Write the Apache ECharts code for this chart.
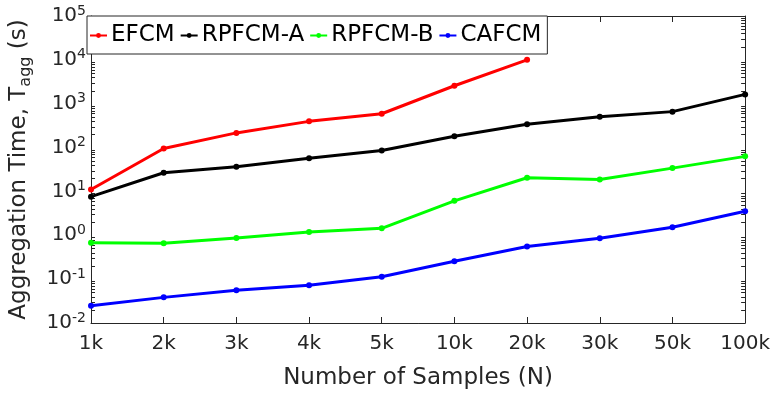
<!DOCTYPE html>
<html><head><meta charset="utf-8">
<script src="https://cdn.jsdelivr.net/npm/echarts@6/dist/echarts.min.js"></script>
<style>html,body{margin:0;padding:0;background:#fff}#c{width:773px;height:395px}</style>
</head><body><div id="c"></div>
<script>
const categories = ['1k','2k','3k','4k','5k','10k','20k','30k','50k','100k'];
const efcm = [11.1, 95, 216, 396, 590, 2570, 10000, null, null, null];
const rpfcmA = [7.6, 26.6, 36.4, 57, 86, 181, 340, 505, 660, 1630];
const rpfcmB = [0.68, 0.66, 0.87, 1.19, 1.44, 6.1, 20.5, 18.8, 34, 63];
const cafcm = [0.0247, 0.0384, 0.056, 0.073, 0.113, 0.257, 0.553, 0.855, 1.52, 3.53];
const seriesNames = ['EFCM','RPFCM-A','RPFCM-B','CAFCM'];
const colors = ['#ff0000','#000000','#00ff00','#0000ff'];
const yTickExp = {0.01:'-2',0.1:'-1',1:'0',10:'1',100:'2',1000:'3',10000:'4',100000:'5'};
const decades = [0.01, 0.1, 1, 10, 100, 1000, 10000];
const minorMultipliers = [2, 3, 4, 5, 6, 7, 8, 9];

const font = 'DejaVu Sans, sans-serif';
const txt = '#262626';
const chart = echarts.init(document.getElementById('c'));
const dataSets = [efcm, rpfcmA, rpfcmB, cafcm];
const minorVals = [];
decades.forEach(d => minorMultipliers.forEach(m => minorVals.push(+(d * m).toPrecision(3))));

const lineSeries = dataSets.map((d, i) => ({
  name: seriesNames[i], type: 'line', data: d, xAxisIndex: 0, yAxisIndex: 0,
  symbol: 'circle', symbolSize: 6, showSymbol: true,
  lineStyle: {color: colors[i], width: 3}, itemStyle: {color: colors[i]},
  z: 10 - i
}));
const minorSeries = {
  type: 'custom', xAxisIndex: 0, yAxisIndex: 0, silent: true, clip: false, z: 1,
  encode: {x: 0, y: 1},
  data: minorVals.map(v => [0, v]),
  renderItem: (params, api) => {
    const v = api.value(1);
    const l = api.coord([0, v]);
    const r = api.coord([categories.length - 1, v]);
    const st = {stroke: txt, lineWidth: 1};
    return {type: 'group', children: [
      {type: 'line', shape: {x1: l[0], y1: Math.round(l[1]) + 0.5, x2: l[0] + 4, y2: Math.round(l[1]) + 0.5}, style: st},
      {type: 'line', shape: {x1: r[0], y1: Math.round(r[1]) + 0.5, x2: r[0] - 4, y2: Math.round(r[1]) + 0.5}, style: st}
    ]};
  }
};

chart.setOption({
  animation: false,
  textStyle: {fontFamily: font},
  grid: {left: 87, right: 27, top: 16, bottom: 71, containLabel: false},
  legend: {
    left: 87, top: 16, padding: [8, 6, 7, 2], itemGap: 5, itemWidth: 17, itemHeight: 6,
    backgroundColor: '#fff', borderColor: '#262626', borderWidth: 1,
    textStyle: {fontSize: 23, color: '#000', fontFamily: font, padding: [0,0,0,-1]},
    data: seriesNames
  },
  xAxis: [{
    type: 'category', data: categories, boundaryGap: false,
    axisLine: {lineStyle: {color: txt, width: 1}},
    axisTick: {inside: true, length: 6, lineStyle: {color: txt}},
    axisLabel: {fontSize: 20, color: txt, margin: 11, fontFamily: font},
    name: 'Number of Samples (N)', nameLocation: 'middle', nameGap: 44,
    nameTextStyle: {fontSize: 23, color: txt, fontFamily: font},
    splitLine: {show: false}
  }, {
    type: 'category', data: categories, boundaryGap: false, position: 'top',
    axisLine: {lineStyle: {color: txt, width: 1}},
    axisTick: {inside: true, length: 6, lineStyle: {color: txt}},
    axisLabel: {show: false}, splitLine: {show: false}
  }],
  yAxis: [{
    type: 'log', min: 0.01, max: 100000, logBase: 10,
    axisLine: {show: true, lineStyle: {color: txt}},
    axisTick: {inside: true, length: 6, lineStyle: {color: txt}},
    splitLine: {show: false},
    axisLabel: {
      margin: 5, color: txt,
      formatter: v => '{b|10}{s|' + (yTickExp[+v.toPrecision(3)] ?? '') + '}',
      rich: {b: {fontSize: 20, color: txt, fontFamily: font}, s: {fontSize: 14, color: txt, fontFamily: font, verticalAlign: 'top', padding: [0,0,10,0]}}
    },
    name: '{n|Aggregation Time, T}{sub|agg}{n| (s)}', nameLocation: 'middle', nameGap: 57, nameRotate: 90,
    nameTextStyle: {rich: {n: {fontSize: 23, color: txt, fontFamily: font}, sub: {fontSize: 16, color: txt, fontFamily: font, padding: [13,0,0,0]}}}
  }, {
    type: 'log', min: 0.01, max: 100000, logBase: 10, position: 'right',
    axisLine: {show: true, lineStyle: {color: txt}},
    axisTick: {inside: true, length: 6, lineStyle: {color: txt}},
    axisLabel: {show: false}, splitLine: {show: false}
  }],
  series: [minorSeries].concat(lineSeries)
});
</script></body></html>
